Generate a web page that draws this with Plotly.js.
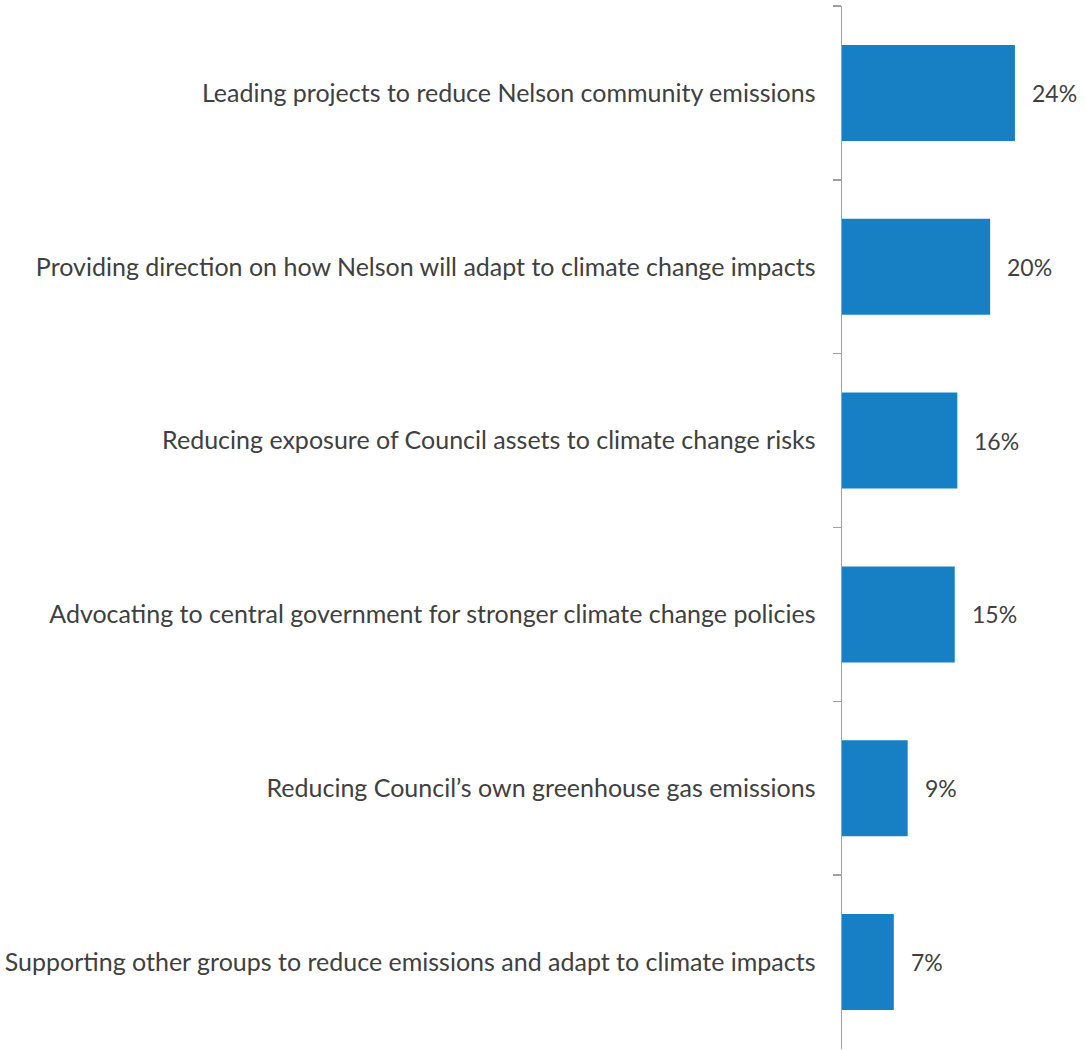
<!DOCTYPE html>
<html>
<head>
<meta charset="utf-8">
<script src="https://cdn.plot.ly/plotly-3.0.1.min.js"></script>
<style>html,body{margin:0;padding:0;background:#fff;}#chart{width:1085px;height:1050px;}</style>
</head>
<body>
<div id="chart"></div>
<script>
const categories = [
  "Leading projects to reduce Nelson community emissions",
  "Providing direction on how Nelson will adapt to climate change impacts",
  "Reducing exposure of Council assets to climate change risks",
  "Advocating to central government for stronger climate change policies",
  "Reducing Council\u2019s own greenhouse gas emissions",
  "Supporting other groups to reduce emissions and adapt to climate impacts"
];
const values = [23.7, 20.3, 15.8, 15.45, 9.0, 7.1];
const valueLabels = ["24%", "20%", "16%", "15%", "9%", "7%"];

const fontFamily = "Lato, sans-serif";
const textColor = "#404040";

const trace = {
  type: "bar",
  orientation: "h",
  y: categories,
  x: values,
  marker: {color: "#1780c4"},
  width: 0.552,
  hoverinfo: "none"
};

const annotations = categories.map((c, i) => ({
  x: values[i], y: c, xref: "x", yref: "y",
  text: valueLabels[i], showarrow: false,
  xanchor: "left", yanchor: "middle", xshift: 15,
  font: {family: fontFamily, size: 23, color: textColor}
}));

const layout = {
  width: 1085, height: 1050,
  margin: {l: 842, r: 0, t: 6, b: 1, pad: 0},
  paper_bgcolor: "#ffffff", plot_bgcolor: "#ffffff",
  showlegend: false,
  xaxis: {range: [0, 33.3], visible: false, fixedrange: true},
  yaxis: {
    type: "category",
    range: [5.5, -0.5],
    showline: true, linecolor: "#a0a0a0", linewidth: 1.5,
    ticks: "outside", tickson: "boundaries", ticklen: 8, tickcolor: "#a0a0a0", tickwidth: 1.5,
    showgrid: false, zeroline: false,
    ticklabelstandoff: 20,
    tickfont: {family: fontFamily, size: 25, color: textColor},
    automargin: false
  },
  annotations: annotations
};

Plotly.newPlot("chart", [trace], layout, {displayModeBar: false, staticPlot: true});
</script>
</body>
</html>
